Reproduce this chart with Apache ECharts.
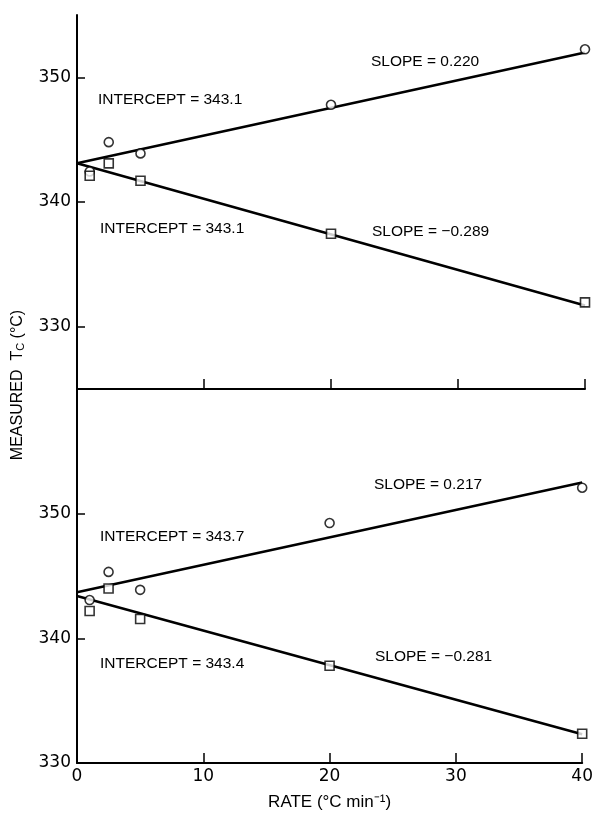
<!DOCTYPE html>
<html>
<head>
<meta charset="utf-8">
<script src="https://cdn.jsdelivr.net/npm/echarts@6/dist/echarts.min.js"></script>
<style>html,body{margin:0;padding:0;background:#fff}#c{width:596px;height:814px}</style>
</head>
<body>
<div id="c"></div>
<script>
// Heating rates (°C/min)
const rates = [1, 2.5, 5, 20, 40];
// Top panel measurements
const topCircles = [342.45, 344.8, 343.9, 347.8, 352.25];
const topSquares = [342.1, 343.1, 341.7, 337.45, 331.95];
// Top panel fit-line endpoints at rate 0 and 40
const fitX = [0, 40];
const topCircleFit = [343.1, 352.0];
const topSquareFit = [343.1, 331.7];
// Bottom panel measurements
const botCircles = [343.07, 345.33, 343.89, 349.25, 352.08];
const botSquares = [342.19, 344.0, 341.55, 337.8, 332.35];
const botCircleFit = [343.7, 352.5];
const botSquareFit = [343.4, 332.3];
// Tick labels
const xTicks = [0, 10, 20, 30, 40];
const yTicks = [330, 340, 350];
// Annotation texts
const topLabels = ['SLOPE = 0.220', 'INTERCEPT = 343.1', 'INTERCEPT = 343.1', 'SLOPE = \u22120.289'];
const botLabels = ['SLOPE = 0.217', 'INTERCEPT = 343.7', 'INTERCEPT = 343.4', 'SLOPE = \u22120.281'];

const pair = (xs, ys) => xs.map((x, i) => [x, ys[i]]);
const LW = 2;
const axisLine = {show: true, onZero: false, lineStyle: {color: '#000', width: LW}};
const labFont = {fontFamily: 'DejaVu Sans', fontSize: 17, color: '#000'};
const annFont = 'Liberation Sans';

function xAxisCfg(g, showLabels) {
  return {
    type: 'value', gridIndex: g, min: 0, max: 40, interval: 10,
    axisLine: axisLine,
    axisTick: {show: true, inside: true, length: 10, lineStyle: {color: '#000', width: 1.5}},
    axisLabel: Object.assign({show: showLabels, margin: 5}, labFont),
    splitLine: {show: false},
    name: showLabels ? 'RATE (\u00B0C min\u207B\u00B9)' : '',
    nameLocation: 'middle', nameGap: 31,
    nameTextStyle: {fontFamily: annFont, fontSize: 17, color: '#000'}
  };
}
function yAxisCfg(g, mn, mx) {
  return {
    type: 'value', gridIndex: g, min: mn, max: mx,
    axisLine: axisLine,
    axisTick: {show: true, inside: true, length: 8, customValues: yTicks, lineStyle: {color: '#000', width: 1.5}},
    axisLabel: Object.assign({show: true, margin: 6, customValues: yTicks}, labFont),
    splitLine: {show: false}
  };
}
function scatter(xi, data, sym) {
  return {
    type: 'scatter', xAxisIndex: xi, yAxisIndex: xi, data: data,
    symbol: sym, symbolSize: 9, z: 5,
    itemStyle: {color: '#fff', borderColor: '#000', borderWidth: 1.6}
  };
}
function fit(xi, ys) {
  return {
    type: 'line', xAxisIndex: xi, yAxisIndex: xi, data: pair(fitX, ys),
    symbol: 'none', z: 3, lineStyle: {color: '#000', width: 2.6}
  };
}
function txt(t, x, y) {
  return {type: 'text', x: x, y: y, z: 10,
    style: {text: t, fontFamily: annFont, fontSize: 15.5, fill: '#000', textVerticalAlign: 'middle', verticalAlign: 'middle'}};
}

const chart = echarts.init(document.getElementById('c'), null, {renderer: 'canvas'});
chart.setOption({
  animation: false,
  backgroundColor: '#fff',
  grid: [
    {left: 77, right: 11, top: 15, height: 374},
    {left: 77, right: 11, top: 389, height: 374}
  ],
  xAxis: [xAxisCfg(0, false), xAxisCfg(1, true)],
  yAxis: [yAxisCfg(0, 325, 355), yAxisCfg(1, 330, 360)],
  series: [
    fit(0, topCircleFit), fit(0, topSquareFit),
    scatter(0, pair(rates, topCircles), 'circle'),
    scatter(0, pair(rates, topSquares), 'rect'),
    fit(1, botCircleFit), fit(1, botSquareFit),
    scatter(1, pair(rates, botCircles), 'circle'),
    scatter(1, pair(rates, botSquares), 'rect')
  ],
  graphic: [
    txt(topLabels[0], 371, 62),
    txt(topLabels[1], 98, 100),
    txt(topLabels[2], 100, 229),
    txt(topLabels[3], 372, 232),
    txt(botLabels[0], 374, 485),
    txt(botLabels[1], 100, 537),
    txt(botLabels[2], 100, 664),
    txt(botLabels[3], 375, 657),
    {type: 'text', x: 15, y: 385, rotation: Math.PI / 2, z: 10,
      style: {
        text: '{a|MEASURED  T}{s|C}{a| (\u00B0C)}',
        align: 'center', verticalAlign: 'middle',
        rich: {
          a: {fontFamily: annFont, fontSize: 16, lineHeight: 22, verticalAlign: 'bottom', fill: '#000'},
          s: {fontFamily: annFont, fontSize: 11, lineHeight: 8, verticalAlign: 'bottom', fill: '#000'}
        }
      }}
  ]
});
</script>
</body>
</html>
